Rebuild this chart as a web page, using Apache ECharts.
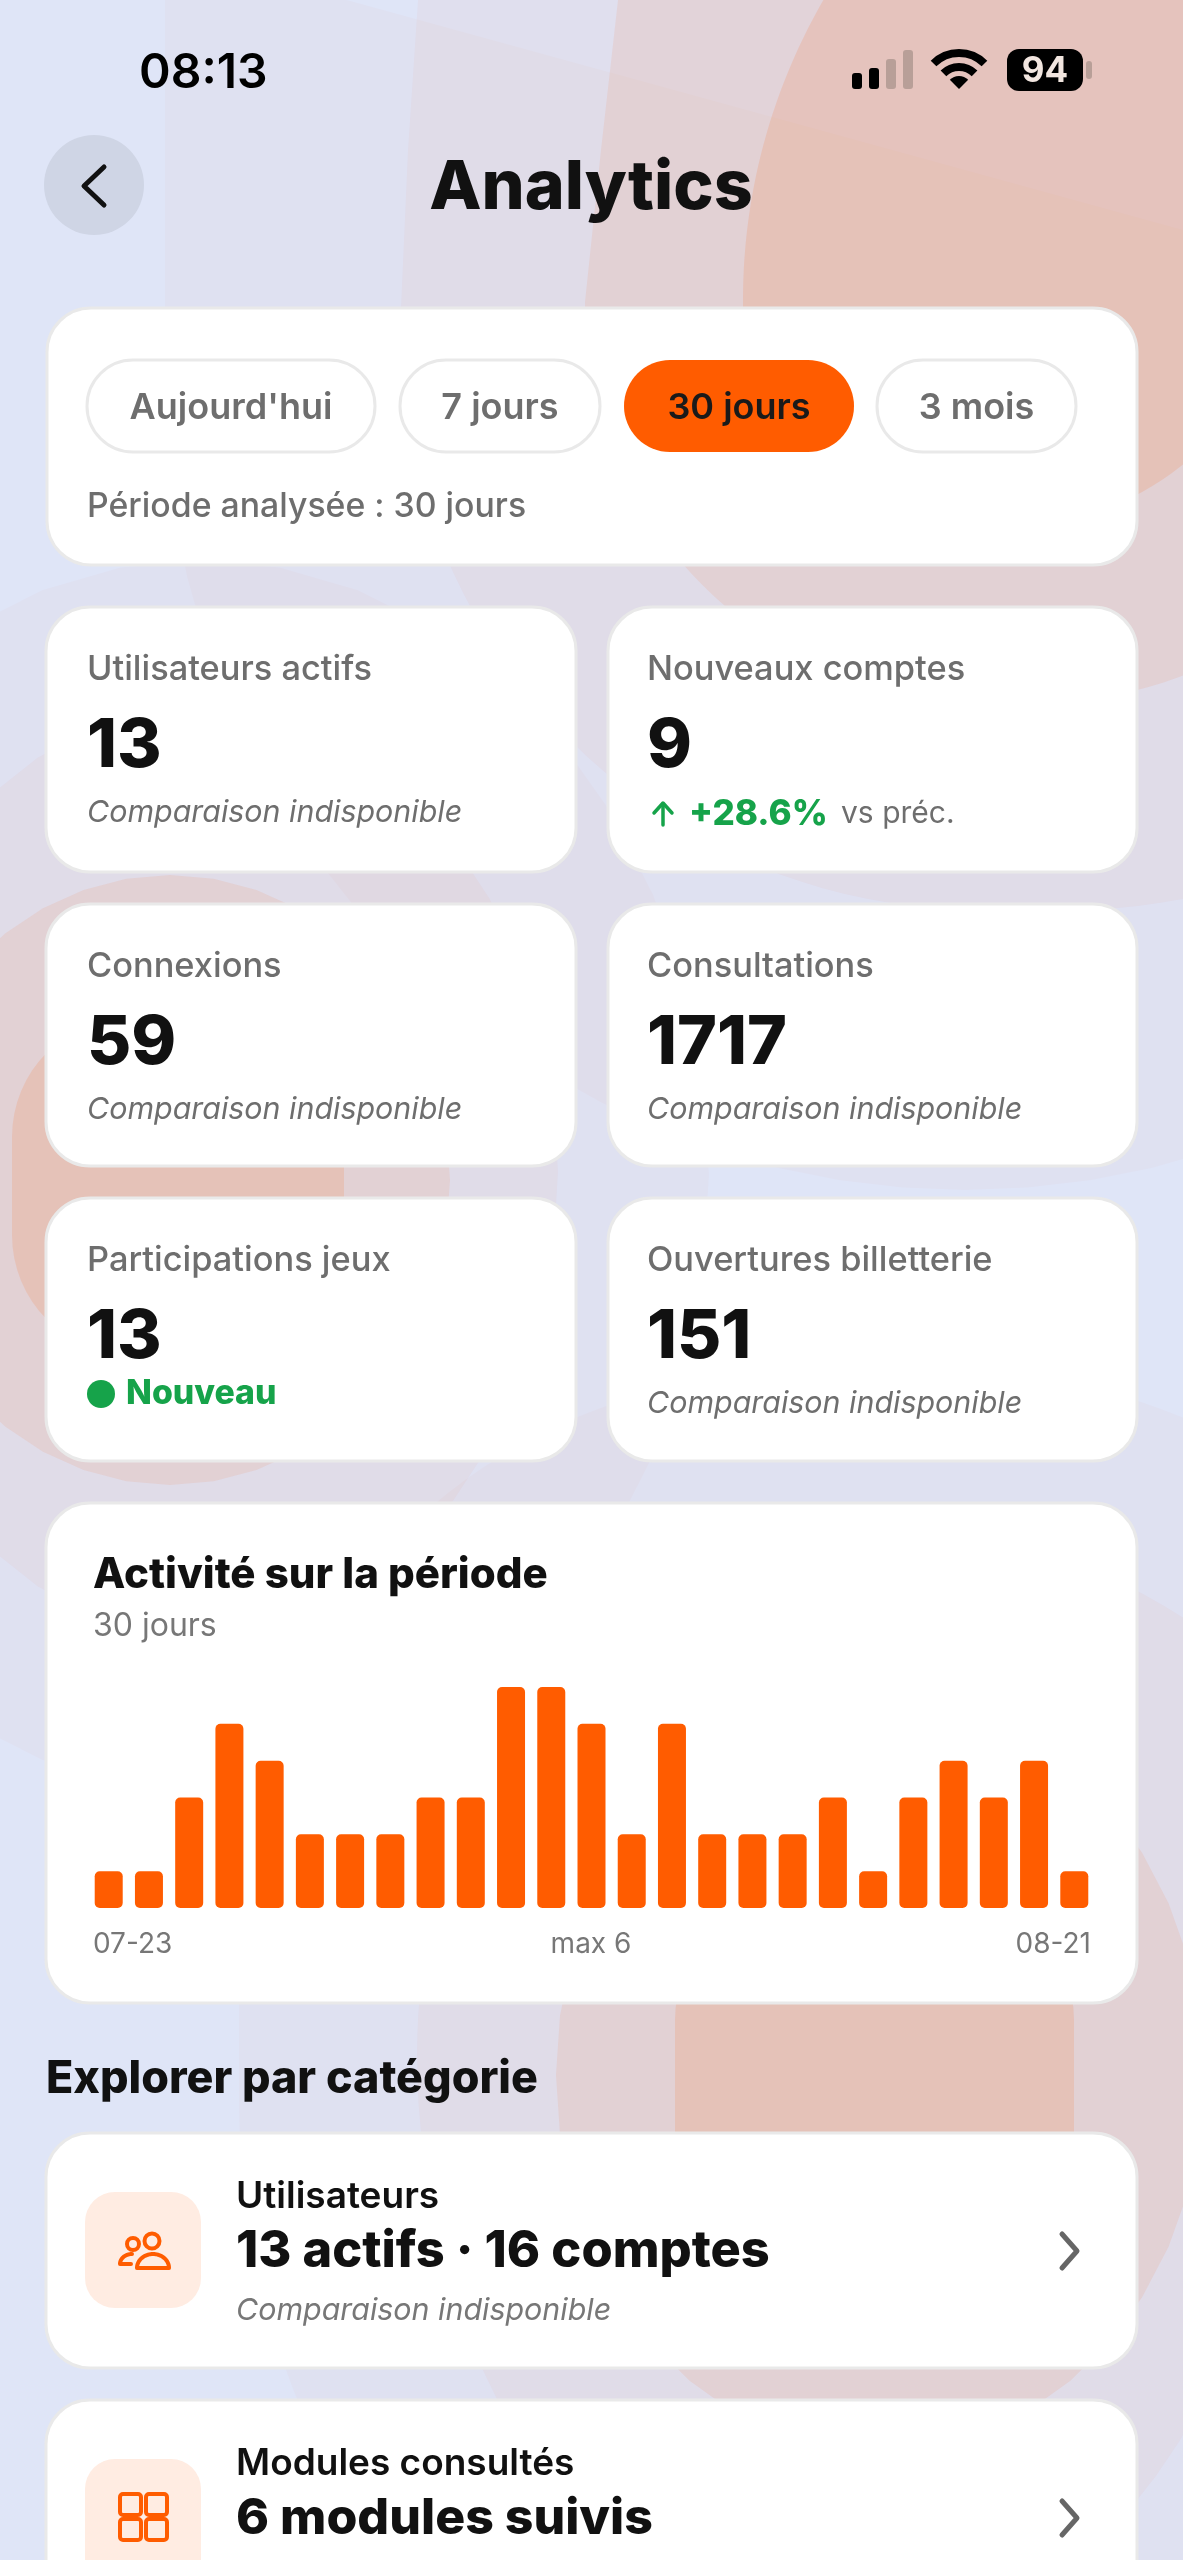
<!DOCTYPE html>
<html>
<head>
<meta charset="utf-8">
<title>Analytics</title>
<script src="https://cdn.jsdelivr.net/npm/echarts@6/dist/echarts.min.js"></script>
<style>
html, body { margin: 0; padding: 0; background: #dfe5f7; }
#main { width: 1183px; height: 2560px; }
</style>
</head>
<body>
<div id="main"></div>
<script>
// bar chart data
var days = ['07-23', '', '', '', '', '', '', '', '', '', '', '', '', '', '', '', '', '', '', '', '', '', '', '', '08-21'];
var activity = [1, 1, 3, 5, 4, 2, 2, 2, 3, 3, 6, 6, 5, 2, 5, 2, 2, 2, 3, 1, 3, 4, 3, 4, 1];

var periods = ['Aujourd\'hui', '7 jours', '30 jours', '3 mois'];
var kpiLabels = ['Utilisateurs actifs', 'Nouveaux comptes', 'Connexions', 'Consultations', 'Participations jeux', 'Ouvertures billetterie'];
var kpiValues = ['13', '9', '59', '1717', '13', '151'];

var font = 'Inter, "Noto Sans", sans-serif';
var ORANGE = '#ff5c00', INK = '#111111', GREY = '#6e6e6e', GREEN = '#16a34a', EDGE = '#e9e9e9';
var g = [];

function box(x, y, w, h, r, fill, stroke, lw) {
    g.push({type: 'rect', shape: {x: x, y: y, width: w, height: h, r: r},
        style: {fill: fill, stroke: stroke || null, lineWidth: lw || 0}});
}
function label(x, y, str, size, weight, color, align, italic) {
    g.push({type: 'text', style: {x: x, y: y + 2, text: str, fontFamily: font, fontSize: size, fontWeight: weight,
        fontStyle: italic ? 'italic' : 'normal', fill: color, textAlign: align || 'left', textVerticalAlign: 'middle'}});
}
function poly(pts, color, lw) {
    g.push({type: 'polyline', shape: {points: pts}, style: {stroke: color, lineWidth: lw, fill: null, lineCap: 'round', lineJoin: 'round'}});
}
function card(x, y, w, h) { box(x, y, w, h, 44, '#ffffff', EDGE, 3); }
// points on an elliptical arc, angles in degrees with y pointing down
function arc(cx, cy, rx, ry, a0, a1) {
    var pts = [], n = 40;
    for (var i = 0; i <= n; i++) {
        var a = (a0 + (a1 - a0) * i / n) * Math.PI / 180;
        pts.push([cx + rx * Math.cos(a), cy + ry * Math.sin(a)]);
    }
    return pts;
}
function blob(alpha, pts) {
    g.push({type: 'polygon', shape: {points: pts}, style: {fill: 'rgba(255,92,0,' + alpha + ')'}});
}

// background blobs, four stacked tints
var D = 0.025, C = 0.035, B = 0.085, A = 0.13;
// top right
blob(D, [[165, -50], [165, 390]].concat(arc(965, 390, 800, 800, 180, 0)));
blob(C, [[1700, -50], [425, -50], [418, 0], [408, 150], [400, 330]].concat(arc(980, 330, 580, 580, 180, 90), arc(1070, 330, 580, 580, 90, 0)));
blob(B, [[1500, -50], [625, -50], [618, 0], [601, 150], [585, 302]].concat(arc(985, 302, 400, 400, 180, 90), arc(1040, 302, 400, 400, 90, 0)));
blob(A, [[1296, -50], [830, -50]].concat(arc(1343, 300, 600, 600, 210, 180), arc(943, 330, 200, 200, 180, 90), arc(996, 230, 300, 300, 90, 0)));
// left
blob(D, arc(200, 1175, 509, 615, 0, 360));
blob(C, arc(200, 1172, 358, 465, 0, 360));
blob(B, arc(170, 1180, 280, 305, 0, 360));
box(12, 1017, 332, 338, 120, 'rgba(255,92,0,0.13)');
// bottom
blob(D, arc(788, 1924, 549, 549, 180, 270).concat(arc(971, 1924, 549, 549, 270, 360), [[1520, 2800]], arc(1039, 2100, 800, 800, 120, 180)));
blob(C, arc(850, 2055, 433, 535, 180, 270).concat(arc(850, 2100, 600, 580, 270, 360), arc(850, 2055, 433, 595, 0, 180)));
blob(B, arc(880, 2075, 324, 378, 0, 360));
box(675, 1900, 399, 400, 120, 'rgba(255,92,0,0.13)');

// status bar
label(139, 72, '08:13', 48, 600, '#000000');
box(852, 73, 10, 16, 3, '#000000');
box(869, 68, 10, 21, 3, '#000000');
box(886, 59, 10, 30, 3, '#b89f98');
box(903, 50, 10, 39, 3, '#b89f98');
[36, 22].forEach(function (r) {
    g.push({type: 'arc', shape: {cx: 959, cy: 89, r: r, startAngle: -Math.PI * 0.75, endAngle: -Math.PI * 0.25},
        style: {stroke: '#000000', lineWidth: 8, fill: null}});
});
g.push({type: 'sector', shape: {cx: 959, cy: 89, r0: 0, r: 13, startAngle: -Math.PI * 0.75, endAngle: -Math.PI * 0.25}, style: {fill: '#000000'}});
box(1007, 49, 76, 42, 12, '#000000');
label(1045, 69, '94', 35, 700, '#f2e6e0', 'center');
box(1086, 61, 6, 18, 3, '#b89f98');

// header
g.push({type: 'circle', shape: {cx: 94, cy: 185, r: 50}, style: {fill: '#cfd5e5'}});
poly([[104, 167], [84, 186], [104, 205]], INK, 5);
label(591, 187, 'Analytics', 68, 800, INK, 'center');

// period selector
card(47, 308, 1090, 257);
var chipX = [87, 400, 624, 877], chipW = [288, 200, 230, 199];
periods.forEach(function (p, i) {
    var on = i === 2;
    box(chipX[i], 360, chipW[i], 92, 46, on ? ORANGE : '#ffffff', on ? null : EDGE, on ? 0 : 3);
    label(chipX[i] + chipW[i] / 2, 406, p, 36, 600, on ? '#1a1a1a' : GREY, 'center');
});
label(87, 505, 'Période analysée : 30 jours', 33.8, 500, GREY);

// KPI cards
var colX = [46, 608], rowY = [607, 904, 1198], rowH = [265, 262, 263];
kpiLabels.forEach(function (t, i) {
    var col = i % 2, row = Math.floor(i / 2), x = colX[col], y = rowY[row];
    card(x, y, col ? 529 : 530, rowH[row]);
    label(x + (col ? 39 : 41), y + 61, t, 34.4, 500, GREY);
    label(x + (col ? 39 : 41), y + 138, kpiValues[i], 68, 800, INK);
    if (i === 1) {
        poly([[663, 825], [663, 804]], GREEN, 3.5);
        poly([[654, 813], [663, 803], [672, 813]], GREEN, 3.5);
        label(689, y + 205, '+28.6%', 35, 800, GREEN);
        label(841, y + 205, 'vs préc.', 30, 400, GREY);
    } else if (i === 4) {
        g.push({type: 'circle', shape: {cx: 101, cy: 1394, r: 14}, style: {fill: GREEN}});
        label(126, 1392, 'Nouveau', 33.8, 800, GREEN);
    } else {
        label(x + (col ? 39 : 41), y + 204, 'Comparaison indisponible', 30.4, 400, GREY, 'left', true);
    }
});

// chart card
card(46, 1503, 1091, 500);
label(93, 1573, 'Activité sur la période', 42, 800, INK);
label(93, 1624, '30 jours', 32, 400, '#777777');
label(93, 1943, days[0], 28, 400, '#777777');
label(591, 1943, 'max ' + Math.max.apply(null, activity), 28, 400, '#777777', 'center');
label(1091, 1943, days[days.length - 1], 28, 400, '#777777', 'right');

// explorer section
label(46, 2078, 'Explorer par catégorie', 44.8, 800, INK);

card(46, 2133, 1091, 235);
box(85, 2192, 116, 116, 30, '#ffece2');
g.push({type: 'circle', shape: {cx: 152, cy: 2241, r: 7.5}, style: {fill: null, stroke: ORANGE, lineWidth: 4}});
g.push({type: 'circle', shape: {cx: 133, cy: 2244, r: 6}, style: {fill: null, stroke: ORANGE, lineWidth: 4}});
poly(arc(153, 2268, 16, 14, 180, 360).concat([[137, 2268]]), ORANGE, 4);
poly([[131, 2264], [120, 2264]].concat(arc(132, 2264, 12, 10, 180, 270)), ORANGE, 4);
label(236, 2195, 'Utilisateurs', 37, 600, INK);
label(236, 2250, '13 actifs · 16 comptes', 50.5, 800, INK);
label(236, 2309, 'Comparaison indisponible', 30.4, 400, '#777777', 'left', true);
poly([[1062, 2234], [1077, 2251], [1062, 2268]], '#666666', 5);

card(46, 2400, 1091, 260);
box(85, 2459, 116, 150, 30, '#ffece2');
[[120, 2494], [146, 2494], [120, 2519], [146, 2519]].forEach(function (p) {
    g.push({type: 'rect', shape: {x: p[0], y: p[1], width: 21, height: 21, r: 3}, style: {fill: null, stroke: ORANGE, lineWidth: 4}});
});
label(236, 2462, 'Modules consultés', 37, 600, INK);
label(236, 2517, '6 modules suivis', 50, 800, INK);
poly([[1062, 2501], [1077, 2518], [1062, 2535]], '#666666', 5);

var chart = echarts.init(document.getElementById('main'));
chart.setOption({
    animation: false,
    backgroundColor: '#dfe5f7',
    graphic: {elements: g},
    grid: {left: 88.6, top: 1687, width: 1005.8, height: 221},
    xAxis: {
        type: 'category',
        data: days,
        axisLine: {show: false},
        axisTick: {show: false},
        axisLabel: {show: false}
    },
    yAxis: {
        type: 'value',
        min: 0,
        max: 6,
        show: false
    },
    series: [{
        type: 'bar',
        data: activity,
        barWidth: 28,
        itemStyle: {color: ORANGE, borderRadius: 5}
    }]
});
</script>
</body>
</html>
